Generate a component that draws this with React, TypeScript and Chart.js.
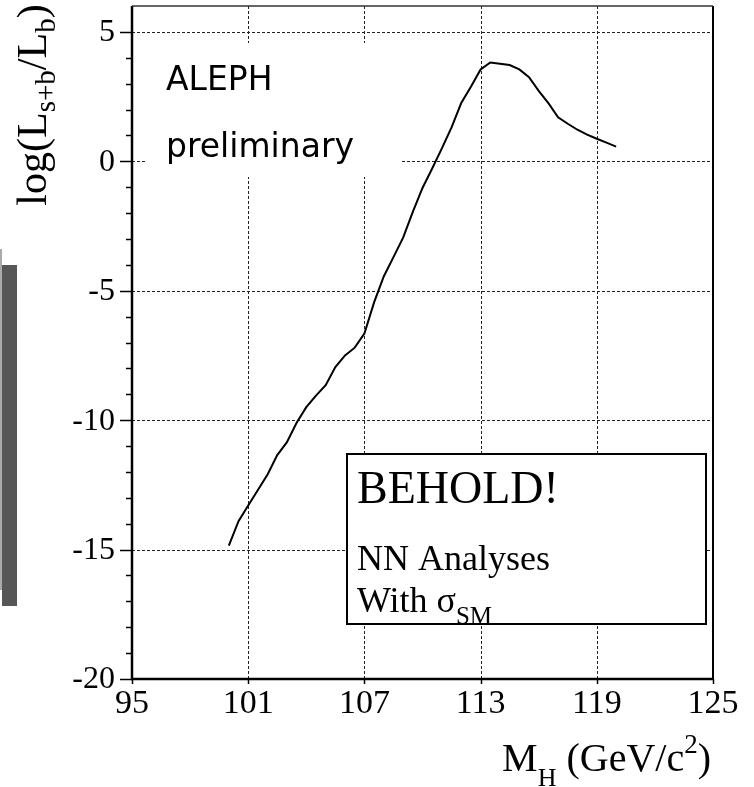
import { useEffect, useRef } from "react";
import { Chart, registerables } from "chart.js";

Chart.register(...registerables);

// ---- Data ----
const massValues = [
  100.0, 100.5, 101.0, 101.5, 102.0, 102.5, 103.0, 103.5, 104.0, 104.5,
  105.0, 105.5, 106.0, 106.5, 107.0, 107.5, 108.0, 108.5, 109.0, 109.5,
  110.0, 110.5, 111.0, 111.5, 112.0, 112.5, 113.0, 113.5, 114.0, 114.5,
  115.0, 115.5, 116.0, 116.5, 117.0, 117.5, 118.0, 118.5, 119.0, 119.5, 120.0,
];
const llrValues = [
  -14.85, -13.9, -13.3, -12.7, -12.1, -11.35, -10.85, -10.1, -9.5, -9.05,
  -8.65, -7.95, -7.5, -7.2, -6.65, -5.45, -4.45, -3.7, -2.95, -1.95,
  -1.03, -0.28, 0.5, 1.31, 2.25, 2.88, 3.55, 3.82, 3.77, 3.72,
  3.55, 3.25, 2.72, 2.25, 1.7, 1.45, 1.22, 1.03, 0.87, 0.72, 0.57,
];
const xTickValues = [95, 101, 107, 113, 119, 125];
const xTickLabels = ["95", "101", "107", "113", "119", "125"];
const xGridValues = [101, 107, 113, 119];
const yTickValues = [-20, -15, -10, -5, 0, 5];
const yTickLabels = ["-20", "-15", "-10", "-5", "0", "5"];
const yGridValues = [-15, -10, -5, 0, 5];
const yMinorValues = [
  -19, -18, -17, -16, -14, -13, -12, -11, -9, -8, -7, -6, -4, -3, -2, -1, 1, 2, 3, 4,
];
const xRange = [95, 125];
const yRange = [-20, 6];
const experimentLabel = "ALEPH";
const statusLabel = "preliminary";
const boxTitle = "BEHOLD!";
const boxLine1 = "NN Analyses";
const boxLine2 = "With σ";
const boxLine2Sub = "SM";

const SERIF = '"Liberation Serif", "Times New Roman", serif';
const SANS = '"DejaVu Sans", sans-serif';

type Run = { text: string; size: number; dy?: number };

function drawRuns(
  ctx: CanvasRenderingContext2D,
  runs: Run[],
  x: number,
  y: number,
  align: "left" | "right" | "center"
) {
  let total = 0;
  const widths = runs.map((r) => {
    ctx.font = `${r.size}px ${SERIF}`;
    const w = ctx.measureText(r.text).width;
    total += w;
    return w;
  });
  let cx = align === "left" ? x : align === "right" ? x - total : x - total / 2;
  runs.forEach((r, i) => {
    ctx.font = `${r.size}px ${SERIF}`;
    ctx.fillText(r.text, cx, y + (r.dy || 0));
    cx += widths[i];
  });
}

const decorPlugin = {
  id: "decor",
  beforeDatasetsDraw(chart: any) {
    const ctx: CanvasRenderingContext2D = chart.ctx;
    const { left, right, top, bottom } = chart.chartArea;
    const xs = chart.scales.x;
    const ys = chart.scales.y;
    ctx.save();
    // gray bar at left page edge
    ctx.fillStyle = "#aaaaaa";
    ctx.fillRect(0, 249, 2, 341);
    ctx.fillStyle = "#575757";
    ctx.fillRect(2, 265, 15, 341);

    // dashed grid
    ctx.strokeStyle = "#222";
    ctx.lineWidth = 1;
    ctx.setLineDash([3, 2]);
    xGridValues.forEach((v) => {
      const px = Math.round(xs.getPixelForValue(v)) + 0.5;
      ctx.beginPath();
      ctx.moveTo(px, top);
      ctx.lineTo(px, bottom);
      ctx.stroke();
    });
    yGridValues.forEach((v) => {
      const py = Math.round(ys.getPixelForValue(v)) + 0.5;
      ctx.beginPath();
      ctx.moveTo(left, py);
      ctx.lineTo(right, py);
      ctx.stroke();
    });
    ctx.restore();
  },
  afterDatasetsDraw(chart: any) {
    const ctx: CanvasRenderingContext2D = chart.ctx;
    const { left, right, top, bottom } = chart.chartArea;
    const xs = chart.scales.x;
    const ys = chart.scales.y;
    ctx.save();
    ctx.setLineDash([]);

    // ALEPH preliminary label with white background
    ctx.fillStyle = "#fff";
    ctx.fillRect(left + 13, top + 37, 256, 134);
    ctx.fillStyle = "#000";
    ctx.textBaseline = "alphabetic";
    ctx.textAlign = "left";
    ctx.font = `33px ${SANS}`;
    ctx.fillText(experimentLabel, left + 34, top + 84);
    ctx.fillText(statusLabel, left + 34, top + 151);

    // BEHOLD box
    const bx = left + 215;
    const by = top + 448;
    const bw = 359;
    const bh = 170;
    ctx.fillStyle = "#fff";
    ctx.fillRect(bx, by, bw, bh);
    ctx.strokeStyle = "#000";
    ctx.lineWidth = 2;
    ctx.strokeRect(bx, by, bw, bh);
    ctx.fillStyle = "#000";
    ctx.font = `46px ${SERIF}`;
    ctx.fillText(boxTitle, bx + 10, by + 49);
    ctx.font = `36px ${SERIF}`;
    ctx.fillText(boxLine1, bx + 10, by + 116);
    drawRuns(
      ctx,
      [
        { text: boxLine2, size: 36 },
        { text: boxLine2Sub, size: 25, dy: 12 },
      ],
      bx + 10,
      by + 158,
      "left"
    );

    // frame
    ctx.strokeStyle = "#000";
    ctx.lineWidth = 2.5;
    ctx.beginPath();
    ctx.moveTo(left, top);
    ctx.lineTo(left, bottom);
    ctx.lineTo(right, bottom);
    ctx.stroke();
    ctx.lineWidth = 2;
    ctx.beginPath();
    ctx.moveTo(right, bottom);
    ctx.lineTo(right, top);
    ctx.stroke();
    ctx.lineWidth = 1.5;
    ctx.strokeStyle = "#333";
    ctx.beginPath();
    ctx.moveTo(left, top);
    ctx.lineTo(right, top);
    ctx.stroke();

    // y ticks
    ctx.strokeStyle = "#000";
    ctx.lineWidth = 1.5;
    yTickValues.forEach((v) => {
      const py = Math.round(ys.getPixelForValue(v)) + 0.5;
      ctx.beginPath();
      ctx.moveTo(left - 12, py);
      ctx.lineTo(left, py);
      ctx.stroke();
    });
    yMinorValues.forEach((v) => {
      const py = Math.round(ys.getPixelForValue(v)) + 0.5;
      ctx.beginPath();
      ctx.moveTo(left - 6, py);
      ctx.lineTo(left, py);
      ctx.stroke();
    });
    // x ticks
    xTickValues.forEach((v) => {
      const px = Math.round(xs.getPixelForValue(v)) + 0.5;
      ctx.beginPath();
      ctx.moveTo(px, bottom);
      ctx.lineTo(px, bottom + 5);
      ctx.stroke();
    });

    // tick labels
    ctx.fillStyle = "#000";
    ctx.font = `32px ${SERIF}`;
    ctx.textAlign = "right";
    ctx.textBaseline = "middle";
    yTickValues.forEach((v, i) => {
      ctx.fillText(yTickLabels[i], left - 17, ys.getPixelForValue(v) + 1);
    });
    ctx.textAlign = "center";
    ctx.textBaseline = "alphabetic";
    ctx.font = `34px ${SERIF}`;
    xTickValues.forEach((v, i) => {
      ctx.fillText(xTickLabels[i], xs.getPixelForValue(v), bottom + 34);
    });

    // axis titles
    ctx.textAlign = "left";
    drawRuns(
      ctx,
      [
        { text: "M", size: 40 },
        { text: "H", size: 26, dy: 15 },
        { text: " (GeV/c", size: 40 },
        { text: "2", size: 27, dy: -18 },
        { text: ")", size: 40 },
      ],
      right - 2,
      bottom + 92,
      "right"
    );

    ctx.save();
    ctx.translate(46, 105);
    ctx.rotate(-Math.PI / 2);
    drawRuns(
      ctx,
      [
        { text: "log(L", size: 42 },
        { text: "s+b", size: 29, dy: 9 },
        { text: "/L", size: 42 },
        { text: "b", size: 29, dy: 9 },
        { text: ")", size: 42 },
      ],
      0,
      0,
      "center"
    );
    ctx.restore();

    ctx.restore();
  },
};

export default function App() {
  const canvasRef = useRef<HTMLCanvasElement | null>(null);

  useEffect(() => {
    const canvas = canvasRef.current;
    if (!canvas) return;
    const chart = new Chart(canvas, {
      type: "line",
      data: {
        datasets: [
          {
            data: massValues.map((m, i) => ({ x: m, y: llrValues[i] })),
            borderColor: "#000",
            borderWidth: 2,
            pointRadius: 0,
            tension: 0,
            fill: false,
          },
        ],
      },
      options: {
        responsive: false,
        animation: false,
        devicePixelRatio: 1,
        layout: { padding: { left: 132, right: 41, top: 6, bottom: 108 } },
        plugins: { legend: { display: false }, tooltip: { enabled: false } },
        scales: {
          x: { type: "linear", min: xRange[0], max: xRange[1], display: false },
          y: { type: "linear", min: yRange[0], max: yRange[1], display: false },
        },
      },
      plugins: [decorPlugin],
    } as any);
    return () => chart.destroy();
  }, []);

  return (
    <div style={{ position: "absolute", left: 0, top: 0, width: 754, height: 787, background: "#fff" }}>
      <canvas ref={canvasRef} width={754} height={787} style={{ display: "block" }} />
    </div>
  );
}
